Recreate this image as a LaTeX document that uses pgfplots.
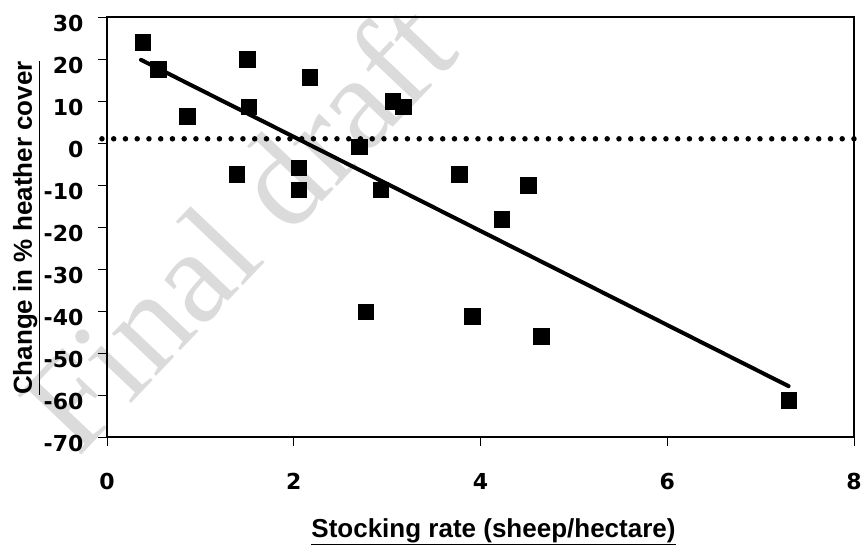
\documentclass[border=0pt]{standalone}
\usepackage{fontspec}
\setmainfont{Liberation Sans}
\newfontfamily\wmfont{Liberation Serif}
\newfontfamily\tickfont{DejaVu Sans}
\newcommand\tl{\tickfont\bfseries\fontsize{22}{24}\selectfont}
\usepackage{pgfplots}
\pgfplotsset{compat=1.18}
\begin{document}
\begin{tikzpicture}
\useasboundingbox (-107pt,-107pt) rectangle (754pt,437pt);
\node[rotate=46.5, text=gray!28, font=\wmfont\fontsize{133}{140}\selectfont, inner sep=0pt] at (129.7pt,212.2pt) {Final draft};
\begin{axis}[
  scale only axis, width=747pt, height=420pt,
  xmin=0, xmax=8, ymin=-70, ymax=30,
  xtick={0,2,4,6,8}, xticklabels={\tl 0,\tl 2,\tl 4,\tl 6,\tl 8},
  ytick={-70,-60,-50,-40,-30,-20,-10,0,10,20,30},
  yticklabels={\tl -70,\tl -60,\tl -50,\tl -40,\tl -30,\tl -20,\tl -10,\tl 0,\tl 10,\tl 20,\tl 30},
  axis line style={line width=2.5pt},
  tick style={black, line width=0.8pt},
  tick align=outside, tick pos=left,
  major tick length=9pt,
  xticklabel style={yshift=-24pt},
  yticklabel style={xshift=-11pt, yshift=-6pt},
  xlabel={\underline{Stocking rate (sheep/hectare)}},
  ylabel={\underline{Change in \% heather cover}},
  xlabel style={at={(rel axis cs:0.5174,-0.2381)}, anchor=base, font=\bfseries\fontsize{26}{28}\selectfont, inner sep=0pt},
  ylabel style={at={(rel axis cs:-0.1004,0.4976)}, rotate=0, anchor=base, font=\bfseries\fontsize{26}{28}\selectfont, inner sep=0pt},
  clip=false,
]
\addplot[black, line width=5.5pt, line cap=round, dash pattern=on 0pt off 11.75pt] coordinates {(-0.054,1) (8,1)};
\addplot[black, line width=4pt, line cap=round] coordinates {(0.364,19.8) (7.30,-57.9)};
\addplot[only marks, mark=square*, mark size=7.7pt, black] coordinates {
(0.385,24.0) (0.55,17.6) (0.857,6.4) (1.50,20.0) (1.52,8.6) (1.39,-7.4)
(2.17,15.7) (2.05,-5.9) (2.05,-11.1) (2.70,-0.9) (2.93,-11.1) (3.06,10.0)
(3.17,8.6) (3.77,-7.4) (4.51,-10.0) (4.23,-18.1) (2.77,-40.1) (3.91,-41.2)
(4.65,-46.0) (7.30,-61.2)
};
\end{axis}
\end{tikzpicture}
\end{document}
